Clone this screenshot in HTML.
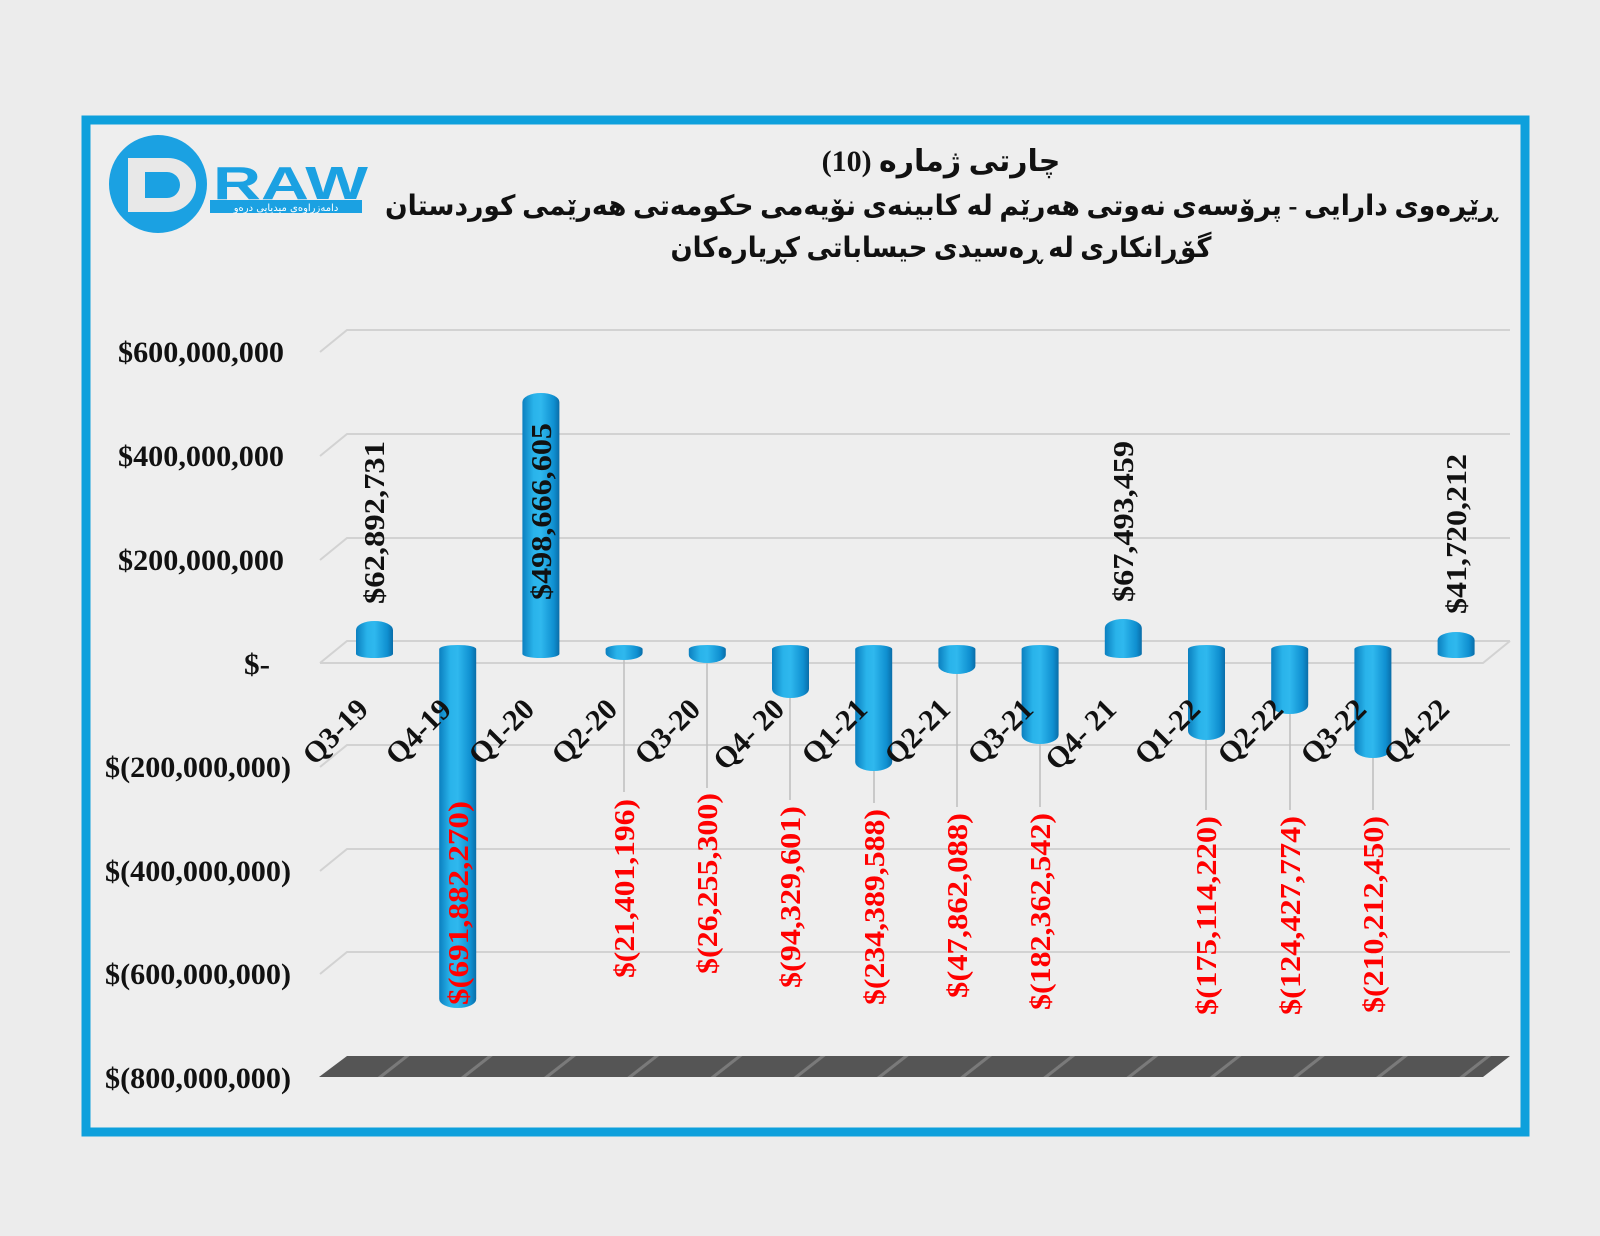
<!DOCTYPE html>
<html><head><meta charset="utf-8"><style>html,body{margin:0;padding:0;background:#ececec}svg{display:block}</style></head>
<body>
<svg width="1600" height="1236" viewBox="0 0 1600 1236" xmlns="http://www.w3.org/2000/svg">
<defs>
<linearGradient id="cyl" x1="0" x2="1" y1="0" y2="0">
<stop offset="0" stop-color="#0b7fbf"/><stop offset="0.3" stop-color="#29b3ea"/><stop offset="0.5" stop-color="#2fb8ee"/><stop offset="0.85" stop-color="#0f8fd0"/><stop offset="1" stop-color="#0a6da8"/>
</linearGradient>
<pattern id="floor" width="83.2" height="30" patternUnits="userSpaceOnUse" x="347" patternTransform="skewX(-52)">
<rect width="83.2" height="30" fill="#555"/><rect x="78" width="5" height="30" fill="#7a7a7a"/>
</pattern>
</defs>
<rect width="1600" height="1236" fill="#ececec"/>
<rect x="86" y="120" width="1439" height="1012" fill="#eeeeee" stroke="#0ea0dc" stroke-width="9"/>

<!-- logo -->
<circle cx="158" cy="184" r="49" fill="#1ba1e2"/>
<path d="M128 158 h40 a28 27 0 0 1 0 54 h-40 z M145 172 v26 h22 a13 13 0 0 0 0 -26 z" fill="#e8e8e8" fill-rule="evenodd"/>
<text x="213" y="199" font-family="Liberation Sans, sans-serif" font-weight="bold" font-size="46" fill="#1ba1e2" textLength="155" lengthAdjust="spacingAndGlyphs">RAW</text>
<rect x="210" y="200" width="152" height="13" fill="#1ba1e2"/>
<text x="286" y="211" text-anchor="middle" font-family="DejaVu Sans, sans-serif" font-size="10" fill="#fff">دامەزراوەی میدیایی درەو</text>

<!-- title -->
<g font-family="Liberation Serif, DejaVu Sans, sans-serif" font-weight="bold" font-size="28" fill="#111" text-anchor="middle">
<text x="941" y="171" direction="rtl" font-size="30">چارتی ژمارە (10)</text>
<text x="941" y="215" direction="rtl" textLength="1112" lengthAdjust="spacingAndGlyphs">ڕێڕەوی دارایی - پرۆسەی نەوتی هەرێم لە کابینەی نۆیەمی حکومەتی هەرێمی کوردستان</text>
<text x="941" y="257" direction="rtl" textLength="541" lengthAdjust="spacingAndGlyphs">گۆڕانکاری لە ڕەسیدی حیساباتی کڕیارەکان</text>
</g>

<!-- grid -->
<g stroke="#d2d2d2" stroke-width="2" fill="none">
<path d="M320 352 L347 330 H1510"/>
<path d="M320 456 L347 434 H1510"/>
<path d="M320 560 L347 538 H1510"/>
<path d="M320 663 L347 641 H1510"/>
<path d="M320 767 L347 745 H1510"/>
<path d="M320 871 L347 849 H1510"/>
<path d="M320 974 L347 952 H1510"/>
<path d="M320 663 H1483 L1510 641"/>
</g>
<polygon points="319,1077 347,1056 1510,1056 1483,1077" fill="url(#floor)"/>

<!-- y labels -->
<g font-family="Liberation Serif, serif" font-weight="bold" font-size="30" fill="#111" text-anchor="end">
<text x="284" y="362" textLength="166" lengthAdjust="spacingAndGlyphs">$600,000,000</text>
<text x="284" y="466" textLength="166" lengthAdjust="spacingAndGlyphs">$400,000,000</text>
<text x="284" y="570" textLength="166" lengthAdjust="spacingAndGlyphs">$200,000,000</text>
<text x="270" y="674" textLength="26" lengthAdjust="spacingAndGlyphs">$-</text>
<text x="291" y="777" textLength="186" lengthAdjust="spacingAndGlyphs">$(200,000,000)</text>
<text x="291" y="881" textLength="186" lengthAdjust="spacingAndGlyphs">$(400,000,000)</text>
<text x="291" y="984" textLength="186" lengthAdjust="spacingAndGlyphs">$(600,000,000)</text>
<text x="291" y="1088" textLength="186" lengthAdjust="spacingAndGlyphs">$(800,000,000)</text>
</g>

<!-- leader lines -->
<g stroke="#bdbdbd" stroke-width="1.5">
<line x1="624" y1="660" x2="624" y2="792"/>
<line x1="707" y1="663" x2="707" y2="788"/>
<line x1="790" y1="698" x2="790" y2="800"/>
<line x1="874" y1="771" x2="874" y2="803"/>
<line x1="957" y1="674" x2="957" y2="807"/>
<line x1="1040" y1="744" x2="1040" y2="807"/>
<line x1="1206" y1="740" x2="1206" y2="810"/>
<line x1="1290" y1="714" x2="1290" y2="810"/>
<line x1="1373" y1="758" x2="1373" y2="810"/>
</g>

<!-- bars -->
<g fill="url(#cyl)">
<path d="M356 654 V630 a18.5 9 0 0 1 37 0 V654 a18.5 4 0 0 1 -37 0z"/>
<path d="M522.4 654 V402 a18.5 9 0 0 1 37 0 V654 a18.5 4 0 0 1 -37 0z"/>
<path d="M1104.8 654 V628 a18.5 9 0 0 1 37 0 V654 a18.5 4 0 0 1 -37 0z"/>
<path d="M1437.6 654 V640 a18.5 8 0 0 1 37 0 V654 a18.5 4 0 0 1 -37 0z"/>
<path d="M439.2 649 a18.5 4 0 0 1 37 0 V999 a18.5 9 0 0 1 -37 0z"/>
<path d="M605.6 649 a18.5 4 0 0 1 37 0 V653 a18.5 7 0 0 1 -37 0z"/>
<path d="M688.8 649 a18.5 4 0 0 1 37 0 V655 a18.5 8 0 0 1 -37 0z"/>
<path d="M772 649 a18.5 4 0 0 1 37 0 V689 a18.5 9 0 0 1 -37 0z"/>
<path d="M855.2 649 a18.5 4 0 0 1 37 0 V762 a18.5 9 0 0 1 -37 0z"/>
<path d="M938.4 649 a18.5 4 0 0 1 37 0 V666 a18.5 8 0 0 1 -37 0z"/>
<path d="M1021.6 649 a18.5 4 0 0 1 37 0 V735 a18.5 9 0 0 1 -37 0z"/>
<path d="M1188 649 a18.5 4 0 0 1 37 0 V731 a18.5 9 0 0 1 -37 0z"/>
<path d="M1271.2 649 a18.5 4 0 0 1 37 0 V705 a18.5 9 0 0 1 -37 0z"/>
<path d="M1354.4 649 a18.5 4 0 0 1 37 0 V749 a18.5 9 0 0 1 -37 0z"/>
</g>

<!-- category labels -->
<g font-family="Liberation Serif, serif" font-weight="bold" font-size="30" fill="#111" text-anchor="end">
<text transform="translate(370,711) rotate(-45)">Q3-19</text>
<text transform="translate(453,711) rotate(-45)">Q4-19</text>
<text transform="translate(536,711) rotate(-45)">Q1-20</text>
<text transform="translate(619,711) rotate(-45)">Q2-20</text>
<text transform="translate(702,711) rotate(-45)">Q3-20</text>
<text transform="translate(786,711) rotate(-45)">Q4- 20</text>
<text transform="translate(869,711) rotate(-45)">Q1-21</text>
<text transform="translate(952,711) rotate(-45)">Q2-21</text>
<text transform="translate(1035,711) rotate(-45)">Q3-21</text>
<text transform="translate(1118,711) rotate(-45)">Q4- 21</text>
<text transform="translate(1202,711) rotate(-45)">Q1-22</text>
<text transform="translate(1285,711) rotate(-45)">Q2-22</text>
<text transform="translate(1368,711) rotate(-45)">Q3-22</text>
<text transform="translate(1451,711) rotate(-45)">Q4-22</text>
</g>

<!-- value labels -->
<g font-family="Liberation Serif, serif" font-weight="bold" font-size="28" fill="#111">
<text transform="translate(384,604) rotate(-90)" textLength="163" lengthAdjust="spacingAndGlyphs">$62,892,731</text>
<text transform="translate(551,600) rotate(-90)" textLength="177" lengthAdjust="spacingAndGlyphs">$498,666,605</text>
<text transform="translate(1133,602) rotate(-90)" textLength="161" lengthAdjust="spacingAndGlyphs">$67,493,459</text>
<text transform="translate(1466,614) rotate(-90)" textLength="160" lengthAdjust="spacingAndGlyphs">$41,720,212</text>
</g>
<g font-family="Liberation Serif, serif" font-weight="bold" font-size="28" fill="#ff0000">
<text transform="translate(468,1005) rotate(-90)" textLength="204" lengthAdjust="spacingAndGlyphs">$(691,882,270)</text>
<text transform="translate(634,978) rotate(-90)" textLength="179" lengthAdjust="spacingAndGlyphs">$(21,401,196)</text>
<text transform="translate(717,974) rotate(-90)" textLength="181" lengthAdjust="spacingAndGlyphs">$(26,255,300)</text>
<text transform="translate(800,988) rotate(-90)" textLength="182" lengthAdjust="spacingAndGlyphs">$(94,329,601)</text>
<text transform="translate(884,1005) rotate(-90)" textLength="196" lengthAdjust="spacingAndGlyphs">$(234,389,588)</text>
<text transform="translate(967,998) rotate(-90)" textLength="185" lengthAdjust="spacingAndGlyphs">$(47,862,088)</text>
<text transform="translate(1050,1010) rotate(-90)" textLength="197" lengthAdjust="spacingAndGlyphs">$(182,362,542)</text>
<text transform="translate(1216,1015) rotate(-90)" textLength="199" lengthAdjust="spacingAndGlyphs">$(175,114,220)</text>
<text transform="translate(1300,1015) rotate(-90)" textLength="199" lengthAdjust="spacingAndGlyphs">$(124,427,774)</text>
<text transform="translate(1383,1013) rotate(-90)" textLength="197" lengthAdjust="spacingAndGlyphs">$(210,212,450)</text>
</g>
</svg>
</body></html>
